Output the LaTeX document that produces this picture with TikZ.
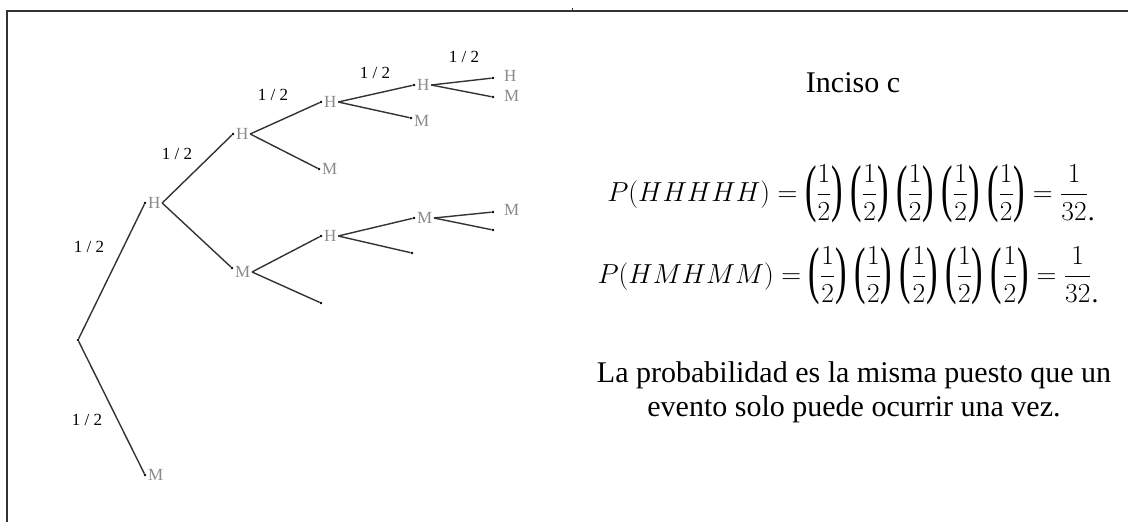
\RequirePackage{fix-cm}
\documentclass[tikz,border=0pt]{standalone}
\usepackage{amsmath}
\usepackage{graphicx}
\usepackage{fontspec}
\setmainfont{Liberation Serif}
\usetikzlibrary{positioning}
\definecolor{lettergray}{HTML}{8A8A8A}
\definecolor{linegray}{HTML}{333333}
\newcommand{\lp}{\mathopen{\vcenter{\hbox{\scalebox{1.25}[2.3]{(}}}}}
\newcommand{\rp}{\mathclose{\vcenter{\hbox{\scalebox{1.25}[2.3]{)}}}}}
\newcommand{\half}{\lp\frac{1}{2}\rp}

\begin{document}
\begin{tikzpicture}[x=1pt, y=-1pt]
\tikzstyle{dot} = [circle, fill=black, inner sep=0pt, minimum size=2.6pt]
\tikzstyle{lbl} = [text=lettergray, font=\fontsize{17}{17}\selectfont, inner sep=1.5pt]
\tikzstyle{prob} = [text=black, font=\fontsize{17}{17}\selectfont]
\tikzstyle{branch} = [line width=1.4pt, draw=linegray]
\tikzstyle{big} = [font=\fontsize{30}{34}\selectfont, align=center]
\tikzstyle{formula} = [font=\fontsize{27.5}{36}\selectfont]

\useasboundingbox (0,0) rectangle (1128,522);
\draw [line width=1.3pt, linegray] (7,522) -- (7,11) -- (1128,11);
\draw [line width=1pt, linegray] (572,8) -- (572,11);

% tree
\node (root) [dot] at (78,340) {};
\node (h1) [dot] at (145,203) {};
\node (mb) [dot] at (145,475) {};
\node (h2) [dot] at (233,134) {};
\node (m2) [dot] at (232,268) {};
\node (h3) [dot] at (321,102) {};
\node (m3) [dot] at (319,169) {};
\node (h4) [dot] at (414,85) {};
\node (m4) [dot] at (411,118) {};
\node (h5) [dot] at (493,78) {};
\node (m5) [dot] at (493,97) {};
\node (h6) [dot] at (321,236) {};
\node (e1) [dot] at (321,303) {};
\node (m6) [dot] at (414,218) {};
\node (e2) [dot] at (412,253) {};
\node (m7) [dot] at (493,212) {};
\node (e3) [dot] at (493,230) {};

\node (lh1) [lbl, right=0pt of h1] {H};
\node (lmb) [lbl, right=0pt of mb] {M};
\node (lh2) [lbl, right=0pt of h2] {H};
\node (lm2) [lbl, right=0pt of m2, yshift=-4pt] {M};
\node (lh3) [lbl, right=0pt of h3] {H};
\node (lm3) [lbl, right=0pt of m3] {M};
\node (lh4) [lbl, right=0pt of h4] {H};
\node (lm4) [lbl, right=0pt of m4, yshift=-3pt] {M};
\node (lh5) [lbl, right=8pt of h5, yshift=2pt] {H};
\node (lm5) [lbl, right=8pt of m5, yshift=1pt] {M};
\node (lh6) [lbl, right=0pt of h6] {H};
\node (lm6) [lbl, right=0pt of m6] {M};
\node (lm7) [lbl, right=8pt of m7, yshift=2pt] {M};

\node (p1) [prob] at (89,247) {1 / 2};
\node (p2) [prob] at (87,420) {1 / 2};
\node (p3) [prob] at (177,154) {1 / 2};
\node (p4) [prob] at (273,95) {1 / 2};
\node (p5) [prob] at (375,73) {1 / 2};
\node (p6) [prob] at (464,57) {1 / 2};

\draw [branch] (root) -- (h1);
\draw [branch] (root) -- (mb);
\draw [branch] (lh1.east) -- (h2);
\draw [branch] (lh1.east) -- (m2);
\draw [branch] (lh2.east) -- (h3);
\draw [branch] (lh2.east) -- (m3);
\draw [branch] (lh3.east) -- (h4);
\draw [branch] (lh3.east) -- (m4);
\draw [branch] (lh4.east) -- (h5);
\draw [branch] (lh4.east) -- (m5);
\draw [branch] (lm2.east) -- (h6);
\draw [branch] (lm2.east) -- (e1);
\draw [branch] (lh6.east) -- (m6);
\draw [branch] (lh6.east) -- (e2);
\draw [branch] (lm6.east) -- (m7);
\draw [branch] (lm6.east) -- (e3);

% right side
\node (title) [big] at (853,83) {Inciso c};
\node (eq1) [formula] at (851,194)
  {$\displaystyle P(HHHHH)=\half\;\half\;\half\;\half\;\half=\frac{1}{32}\raisebox{-0.7em}{.}$};
\node (eq2) [formula] at (848,276)
  {$\displaystyle P(HMHMM)=\half\;\half\;\half\;\half\;\half=\frac{1}{32}\raisebox{-0.7em}{.}$};
\node (note) [big] at (854,392) {La probabilidad es la misma puesto que un\\evento solo puede ocurrir una vez.};
\end{tikzpicture}
\end{document}
